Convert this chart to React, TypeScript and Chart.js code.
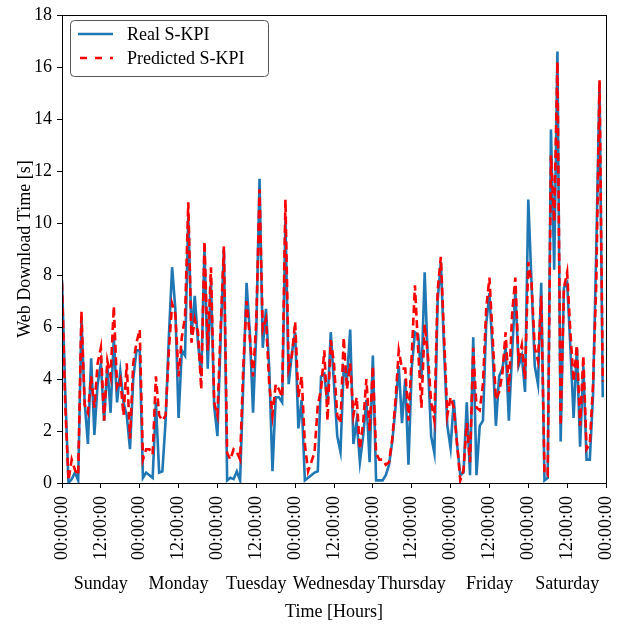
import React, { useEffect, useRef } from 'react';
import { Chart, registerables } from 'chart.js';

Chart.register(...registerables);

// Hourly samples over one week (hour 0 = Sunday 00:00)
const realKpi = [
  7.8, 3.5, 0.0, 0.15, 0.4, 0.1, 6.3, 3.1, 1.5, 4.8, 1.85, 3.8,
  4.6, 2.4, 4.5, 2.7, 5.6, 3.1, 4.3, 3.1, 2.6, 1.3, 4.0, 5.1,
  5.1, 0.2, 0.4, 0.3, 0.2, 3.1, 0.4, 0.45, 2.4, 5.6, 8.3, 6.7,
  2.5, 5.1, 4.9, 10.3, 5.7, 7.2, 5.4, 4.1, 9.0, 4.4, 7.8, 2.95,
  1.8, 5.6, 9.0, 0.1, 0.2, 0.15, 0.45, 0.1, 3.9, 7.7, 5.8, 2.7,
  5.8, 11.7, 5.2, 6.7, 4.4, 0.45, 3.3, 3.3, 3.1, 10.1, 3.8, 5.0,
  5.8, 2.1, 3.2, 0.1, 0.2, 0.3, 0.4, 0.45, 4.1, 4.2, 3.0, 5.8,
  3.8, 1.8, 1.2, 4.4, 4.0, 5.9, 1.5, 2.4, 0.8, 1.8, 3.2, 0.8,
  4.9, 0.1, 0.1, 0.1, 0.3, 0.7, 1.6, 2.9, 4.5, 2.3, 4.0, 0.7,
  4.4, 5.8, 5.7, 4.0, 8.1, 4.6, 1.8, 1.15, 7.0, 8.5, 5.1, 2.2,
  1.35, 3.2, 1.5, 0.3, 0.4, 3.1, 0.3, 5.6, 0.3, 2.2, 2.4, 6.1,
  7.3, 5.0, 2.2, 4.1, 4.4, 5.2, 2.4, 5.0, 7.4, 4.5, 4.9, 3.5,
  10.9, 7.7, 4.5, 3.8, 7.7, 0.1, 0.2, 13.6, 8.2, 16.6, 1.6, 7.5,
  7.7, 5.2, 2.5, 5.2, 1.4, 4.5, 0.9, 0.9, 3.4, 9.0, 15.4, 3.3,
];

const predictedKpi = [
  7.7, 3.0, 0.1, 0.9, 0.5, 0.3, 6.6, 3.0, 2.7, 4.1, 2.9, 4.6,
  5.2, 2.4, 4.7, 4.1, 6.8, 3.7, 4.0, 2.6, 4.6, 1.7, 4.6, 5.4,
  5.9, 0.9, 1.3, 1.3, 1.1, 4.1, 2.6, 2.4, 2.6, 5.1, 6.9, 6.5,
  4.1, 5.6, 6.4, 10.8, 5.4, 6.3, 5.8, 3.6, 9.3, 5.1, 8.3, 3.1,
  2.6, 6.0, 9.1, 1.15, 0.9, 1.3, 1.2, 0.9, 4.5, 7.0, 5.6, 4.1,
  6.2, 11.3, 5.9, 6.3, 3.8, 2.6, 3.8, 3.6, 3.3, 10.9, 4.4, 4.9,
  6.2, 3.3, 4.1, 1.5, 0.45, 0.8, 1.2, 3.0, 3.6, 5.1, 2.4, 5.5,
  4.6, 2.6, 2.3, 5.6, 3.6, 4.6, 2.6, 3.3, 1.3, 2.3, 4.0, 2.0,
  4.5, 1.15, 0.9, 0.9, 0.7, 0.8, 1.7, 3.2, 5.1, 4.4, 4.4, 2.4,
  4.9, 7.6, 5.1, 2.9, 6.1, 4.9, 3.1, 2.4, 7.4, 8.7, 5.6, 2.6,
  3.3, 2.9, 1.5, 0.1, 0.5, 2.3, 0.8, 5.2, 2.9, 2.8, 3.8, 6.7,
  7.9, 5.6, 3.2, 3.5, 4.2, 5.8, 3.5, 6.5, 7.9, 4.7, 5.3, 4.0,
  8.5, 7.7, 5.2, 4.7, 7.2, 0.4, 0.3, 12.6, 10.05, 16.2, 2.2, 7.5,
  8.1, 5.8, 3.9, 5.3, 2.2, 4.9, 1.3, 1.5, 3.8, 7.7, 15.5, 3.9,
];

const dayLabels = ['Sunday', 'Monday', 'Tuesday', 'Wednesday', 'Thursday', 'Friday', 'Saturday'];
const timeTickLabels = ['00:00:00', '12:00:00'];
const seriesLabels = ['Real S-KPI', 'Predicted S-KPI'];

const FONT = "'Liberation Serif', 'Times New Roman', serif";

const frameLegendPlugin = {
  id: 'frameLegend',
  afterDatasetsDraw(chart: any) {
    const { ctx, chartArea } = chart;
    const { left, top, right, bottom } = chartArea;
    ctx.save();
    ctx.strokeStyle = '#000';
    ctx.lineWidth = 1;
    ctx.strokeRect(Math.round(left) + 0.5, Math.round(top) + 0.5, Math.round(right - left), Math.round(bottom - top));
    ctx.restore();
  },
  afterDraw(chart: any) {
    const { ctx, chartArea } = chart;
    const bx = chartArea.left + 8;
    const by = chartArea.top + 5;
    const bw = 198;
    const bh = 56;
    ctx.save();
    ctx.beginPath();
    ctx.roundRect(bx + 0.5, by + 0.5, bw, bh, 4);
    ctx.fillStyle = 'rgba(255,255,255,0.85)';
    ctx.fill();
    ctx.strokeStyle = '#555';
    ctx.lineWidth = 1;
    ctx.stroke();
    const ds = chart.data.datasets;
    const rows = [by + 14, by + 38];
    ds.forEach((d: any, i: number) => {
      ctx.beginPath();
      ctx.strokeStyle = d.borderColor;
      ctx.lineWidth = d.borderWidth;
      ctx.setLineDash(d.borderDash ? [7, 8] : []);
      const x0 = d.borderDash ? bx + 10 : bx + 8;
      ctx.moveTo(x0, rows[i]);
      ctx.lineTo(bx + 43, rows[i]);
      ctx.stroke();
      ctx.setLineDash([]);
      ctx.fillStyle = '#000';
      ctx.font = `18px ${FONT}`;
      ctx.textBaseline = 'middle';
      ctx.textAlign = 'left';
      ctx.fillText(d.label, bx + 57, rows[i] + 1);
    });
    ctx.restore();
  },
};

export default function App() {
  const ref = useRef<HTMLCanvasElement>(null);
  useEffect(() => {
    const canvas = ref.current;
    if (!canvas) return;
    const font = { family: FONT, size: 18 };
    const chart = new Chart(canvas, {
      type: 'line',
      data: {
        datasets: [
          {
            label: seriesLabels[0],
            data: realKpi.map((y, i) => ({ x: i, y })),
            borderColor: '#1f77b4',
            backgroundColor: '#1f77b4',
            borderWidth: 2.6,
            pointRadius: 0,
            tension: 0,
            fill: false,
            order: 2,
          },
          {
            label: seriesLabels[1],
            data: predictedKpi.map((y, i) => ({ x: i, y })),
            borderColor: '#ff0000',
            backgroundColor: '#ff0000',
            borderWidth: 2.6,
            borderDash: [8, 4.5],
            pointRadius: 0,
            tension: 0,
            fill: false,
            order: 1,
          },
        ],
      },
      options: {
        animation: false,
        responsive: false,
        devicePixelRatio: 1,
        layout: { padding: { top: 15, right: 17, left: 0, bottom: 0 } },
        plugins: { legend: { display: false }, tooltip: { enabled: false } },
        scales: {
          x: {
            type: 'linear',
            position: 'bottom',
            min: 0,
            max: 168,
            weight: 0,
            afterBuildTicks: (s: any) => {
              s.ticks = Array.from({ length: 15 }, (_, i) => ({ value: i * 12 }));
            },
            ticks: {
              autoSkip: false,
              minRotation: 90,
              maxRotation: 90,
              padding: 8,
              color: '#000',
              font,
              callback: (v: any) => timeTickLabels[Math.round(Number(v) / 12) % 2],
            },
            grid: { drawOnChartArea: false, tickLength: 5, tickColor: '#000', tickWidth: 1 },
            border: { color: '#000', width: 1 },
            afterFit: (s: any) => {
              s.height = 88;
              s.paddingLeft = 0;
              s.paddingRight = 0;
            },
          },
          days: {
            type: 'linear',
            position: 'bottom',
            min: 0,
            max: 168,
            weight: 1,
            afterBuildTicks: (s: any) => {
              s.ticks = dayLabels.map((_, i) => ({ value: 12 + 24 * i }));
            },
            ticks: {
              autoSkip: false,
              minRotation: 0,
              maxRotation: 0,
              padding: 2,
              color: '#000',
              font,
              callback: (v: any) => dayLabels[Math.round((Number(v) - 12) / 24)],
            },
            grid: { display: false, drawTicks: false },
            border: { display: false },
            title: {
              display: true,
              text: 'Time [Hours]',
              color: '#000',
              font,
              padding: { top: 0, bottom: 2 },
            },
            afterFit: (s: any) => {
              s.height = 54;
              s.paddingLeft = 0;
              s.paddingRight = 0;
            },
          },
          y: {
            type: 'linear',
            position: 'left',
            min: 0,
            max: 18,
            ticks: { stepSize: 2, padding: 5, color: '#000', font },
            grid: { drawOnChartArea: false, tickLength: 5, tickColor: '#000', tickWidth: 1 },
            border: { color: '#000', width: 1 },
            title: {
              display: true,
              text: 'Web Download Time [s]',
              color: '#000',
              font,
              padding: { top: 14, bottom: 0 },
            },
            afterFit: (s: any) => {
              s.width = 62;
              s.paddingTop = 0;
              s.paddingBottom = 0;
            },
          },
        },
      } as any,
      plugins: [frameLegendPlugin],
    });
    return () => chart.destroy();
  }, []);
  return (
    <div style={{ position: 'fixed', left: 0, top: 0, width: 623, height: 625, background: '#fff' }}>
      <canvas ref={ref} width={623} height={625} />
    </div>
  );
}
